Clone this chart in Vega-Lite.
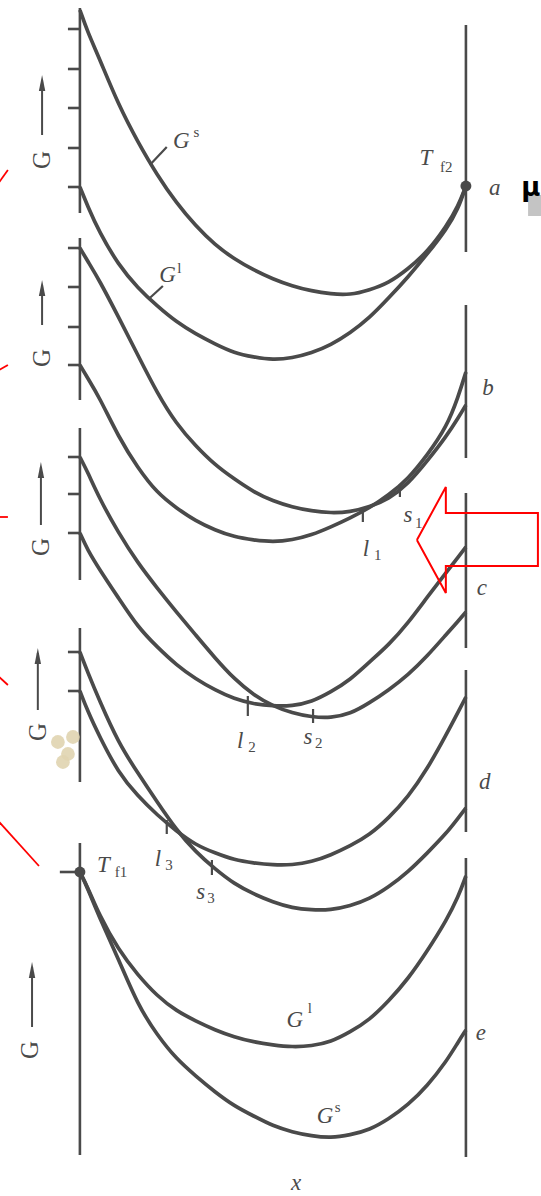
{
  "$schema": "https://vega.github.io/schema/vega-lite/v6.json",
  "width": 541,
  "height": 1196,
  "autosize": {"type": "none"},
  "padding": 0,
  "background": "white",
  "config": {"view": {"stroke": null}},
  "encoding": {
    "x": {"field": "x", "type": "quantitative", "scale": {"domain": [-20.7, 119.45], "nice": false, "zero": false}, "axis": null},
    "y": {"field": "G", "type": "quantitative", "scale": {"domain": [0, 119.6], "nice": false, "zero": false}, "axis": null}
  },
  "datasets": {
    "curves": [
      {"curve": "a_s", "x": 0, "G": 118.6}, {"curve": "a_s", "x": 2, "G": 116.4}, {"curve": "a_s", "x": 5, "G": 113.8}, {"curve": "a_s", "x": 10, "G": 109.1}, {"curve": "a_s", "x": 15, "G": 105.4}, {"curve": "a_s", "x": 20, "G": 102.1}, {"curve": "a_s", "x": 25, "G": 99.3}, {"curve": "a_s", "x": 30, "G": 97.0}, {"curve": "a_s", "x": 35, "G": 95.1}, {"curve": "a_s", "x": 40, "G": 93.7}, {"curve": "a_s", "x": 45, "G": 92.6}, {"curve": "a_s", "x": 50, "G": 91.7}, {"curve": "a_s", "x": 55, "G": 91.0}, {"curve": "a_s", "x": 60, "G": 90.5}, {"curve": "a_s", "x": 65, "G": 90.2}, {"curve": "a_s", "x": 70, "G": 90.1}, {"curve": "a_s", "x": 75, "G": 90.6}, {"curve": "a_s", "x": 80, "G": 91.3}, {"curve": "a_s", "x": 85, "G": 92.7}, {"curve": "a_s", "x": 90, "G": 94.4}, {"curve": "a_s", "x": 95, "G": 97.0}, {"curve": "a_s", "x": 98, "G": 99.0}, {"curve": "a_s", "x": 100, "G": 101.0},
      {"curve": "a_l", "x": 0, "G": 100.9}, {"curve": "a_l", "x": 2, "G": 99.0}, {"curve": "a_l", "x": 5, "G": 96.4}, {"curve": "a_l", "x": 10, "G": 93.1}, {"curve": "a_l", "x": 15, "G": 90.8}, {"curve": "a_l", "x": 20, "G": 89.0}, {"curve": "a_l", "x": 25, "G": 87.4}, {"curve": "a_l", "x": 30, "G": 86.2}, {"curve": "a_l", "x": 35, "G": 85.2}, {"curve": "a_l", "x": 40, "G": 84.3}, {"curve": "a_l", "x": 45, "G": 83.9}, {"curve": "a_l", "x": 50, "G": 83.6}, {"curve": "a_l", "x": 55, "G": 83.8}, {"curve": "a_l", "x": 60, "G": 84.3}, {"curve": "a_l", "x": 65, "G": 85.1}, {"curve": "a_l", "x": 70, "G": 86.3}, {"curve": "a_l", "x": 75, "G": 87.8}, {"curve": "a_l", "x": 80, "G": 89.8}, {"curve": "a_l", "x": 85, "G": 91.9}, {"curve": "a_l", "x": 90, "G": 94.2}, {"curve": "a_l", "x": 95, "G": 96.7}, {"curve": "a_l", "x": 98, "G": 98.7}, {"curve": "a_l", "x": 100, "G": 101.0},
      {"curve": "b_s", "x": 0, "G": 94.8}, {"curve": "b_s", "x": 2, "G": 93.5}, {"curve": "b_s", "x": 5, "G": 91.6}, {"curve": "b_s", "x": 10, "G": 87.9}, {"curve": "b_s", "x": 15, "G": 84.1}, {"curve": "b_s", "x": 20, "G": 80.3}, {"curve": "b_s", "x": 25, "G": 77.2}, {"curve": "b_s", "x": 30, "G": 75.0}, {"curve": "b_s", "x": 35, "G": 73.1}, {"curve": "b_s", "x": 40, "G": 71.7}, {"curve": "b_s", "x": 45, "G": 70.4}, {"curve": "b_s", "x": 50, "G": 69.5}, {"curve": "b_s", "x": 55, "G": 68.9}, {"curve": "b_s", "x": 60, "G": 68.5}, {"curve": "b_s", "x": 65, "G": 68.3}, {"curve": "b_s", "x": 70, "G": 68.4}, {"curve": "b_s", "x": 75, "G": 68.9}, {"curve": "b_s", "x": 80, "G": 69.7}, {"curve": "b_s", "x": 85, "G": 71.2}, {"curve": "b_s", "x": 90, "G": 73.5}, {"curve": "b_s", "x": 95, "G": 76.0}, {"curve": "b_s", "x": 98, "G": 77.8}, {"curve": "b_s", "x": 100, "G": 79.1},
      {"curve": "b_l", "x": 0, "G": 83.1}, {"curve": "b_l", "x": 2, "G": 81.8}, {"curve": "b_l", "x": 5, "G": 79.9}, {"curve": "b_l", "x": 10, "G": 75.9}, {"curve": "b_l", "x": 15, "G": 72.8}, {"curve": "b_l", "x": 20, "G": 70.3}, {"curve": "b_l", "x": 25, "G": 68.8}, {"curve": "b_l", "x": 30, "G": 67.5}, {"curve": "b_l", "x": 35, "G": 66.6}, {"curve": "b_l", "x": 40, "G": 65.9}, {"curve": "b_l", "x": 45, "G": 65.6}, {"curve": "b_l", "x": 50, "G": 65.4}, {"curve": "b_l", "x": 55, "G": 65.6}, {"curve": "b_l", "x": 60, "G": 66.1}, {"curve": "b_l", "x": 65, "G": 66.9}, {"curve": "b_l", "x": 70, "G": 67.8}, {"curve": "b_l", "x": 75, "G": 68.8}, {"curve": "b_l", "x": 80, "G": 70.1}, {"curve": "b_l", "x": 85, "G": 71.7}, {"curve": "b_l", "x": 90, "G": 74.1}, {"curve": "b_l", "x": 95, "G": 76.9}, {"curve": "b_l", "x": 98, "G": 79.9}, {"curve": "b_l", "x": 100, "G": 82.4},
      {"curve": "c_s", "x": 0, "G": 73.9}, {"curve": "c_s", "x": 2, "G": 72.4}, {"curve": "c_s", "x": 5, "G": 69.8}, {"curve": "c_s", "x": 10, "G": 66.3}, {"curve": "c_s", "x": 15, "G": 63.3}, {"curve": "c_s", "x": 20, "G": 60.8}, {"curve": "c_s", "x": 25, "G": 58.4}, {"curve": "c_s", "x": 30, "G": 56.1}, {"curve": "c_s", "x": 35, "G": 53.8}, {"curve": "c_s", "x": 40, "G": 51.7}, {"curve": "c_s", "x": 45, "G": 50.1}, {"curve": "c_s", "x": 50, "G": 49.0}, {"curve": "c_s", "x": 55, "G": 48.3}, {"curve": "c_s", "x": 60, "G": 47.9}, {"curve": "c_s", "x": 65, "G": 47.8}, {"curve": "c_s", "x": 70, "G": 48.2}, {"curve": "c_s", "x": 75, "G": 49.3}, {"curve": "c_s", "x": 80, "G": 50.6}, {"curve": "c_s", "x": 85, "G": 52.1}, {"curve": "c_s", "x": 90, "G": 54.0}, {"curve": "c_s", "x": 95, "G": 56.2}, {"curve": "c_s", "x": 98, "G": 57.5}, {"curve": "c_s", "x": 100, "G": 58.4},
      {"curve": "c_l", "x": 0, "G": 66.3}, {"curve": "c_l", "x": 2, "G": 64.6}, {"curve": "c_l", "x": 5, "G": 62.7}, {"curve": "c_l", "x": 10, "G": 59.8}, {"curve": "c_l", "x": 15, "G": 56.9}, {"curve": "c_l", "x": 20, "G": 54.9}, {"curve": "c_l", "x": 25, "G": 53.1}, {"curve": "c_l", "x": 30, "G": 51.7}, {"curve": "c_l", "x": 35, "G": 50.6}, {"curve": "c_l", "x": 40, "G": 49.7}, {"curve": "c_l", "x": 45, "G": 49.2}, {"curve": "c_l", "x": 50, "G": 49.0}, {"curve": "c_l", "x": 55, "G": 49.0}, {"curve": "c_l", "x": 60, "G": 49.4}, {"curve": "c_l", "x": 65, "G": 50.4}, {"curve": "c_l", "x": 70, "G": 51.6}, {"curve": "c_l", "x": 75, "G": 53.4}, {"curve": "c_l", "x": 80, "G": 55.1}, {"curve": "c_l", "x": 85, "G": 57.3}, {"curve": "c_l", "x": 90, "G": 59.9}, {"curve": "c_l", "x": 95, "G": 62.4}, {"curve": "c_l", "x": 98, "G": 63.9}, {"curve": "c_l", "x": 100, "G": 64.9},
      {"curve": "d_s", "x": 0, "G": 54.4}, {"curve": "d_s", "x": 2, "G": 52.4}, {"curve": "d_s", "x": 5, "G": 49.6}, {"curve": "d_s", "x": 10, "G": 45.3}, {"curve": "d_s", "x": 15, "G": 42.3}, {"curve": "d_s", "x": 20, "G": 39.4}, {"curve": "d_s", "x": 25, "G": 36.6}, {"curve": "d_s", "x": 30, "G": 34.4}, {"curve": "d_s", "x": 35, "G": 32.7}, {"curve": "d_s", "x": 40, "G": 31.2}, {"curve": "d_s", "x": 45, "G": 30.2}, {"curve": "d_s", "x": 50, "G": 29.4}, {"curve": "d_s", "x": 55, "G": 28.8}, {"curve": "d_s", "x": 60, "G": 28.6}, {"curve": "d_s", "x": 65, "G": 28.6}, {"curve": "d_s", "x": 70, "G": 29.0}, {"curve": "d_s", "x": 75, "G": 29.7}, {"curve": "d_s", "x": 80, "G": 30.9}, {"curve": "d_s", "x": 85, "G": 32.4}, {"curve": "d_s", "x": 90, "G": 34.3}, {"curve": "d_s", "x": 95, "G": 36.3}, {"curve": "d_s", "x": 98, "G": 37.8}, {"curve": "d_s", "x": 100, "G": 38.8},
      {"curve": "d_l", "x": 0, "G": 50.5}, {"curve": "d_l", "x": 2, "G": 48.5}, {"curve": "d_l", "x": 5, "G": 46.0}, {"curve": "d_l", "x": 10, "G": 42.3}, {"curve": "d_l", "x": 15, "G": 40.0}, {"curve": "d_l", "x": 20, "G": 38.1}, {"curve": "d_l", "x": 25, "G": 36.5}, {"curve": "d_l", "x": 30, "G": 35.1}, {"curve": "d_l", "x": 35, "G": 34.3}, {"curve": "d_l", "x": 40, "G": 33.6}, {"curve": "d_l", "x": 45, "G": 33.3}, {"curve": "d_l", "x": 50, "G": 33.1}, {"curve": "d_l", "x": 55, "G": 33.1}, {"curve": "d_l", "x": 60, "G": 33.4}, {"curve": "d_l", "x": 65, "G": 34.1}, {"curve": "d_l", "x": 70, "G": 35.0}, {"curve": "d_l", "x": 75, "G": 36.1}, {"curve": "d_l", "x": 80, "G": 37.8}, {"curve": "d_l", "x": 85, "G": 39.9}, {"curve": "d_l", "x": 90, "G": 42.7}, {"curve": "d_l", "x": 95, "G": 46.2}, {"curve": "d_l", "x": 98, "G": 48.4}, {"curve": "d_l", "x": 100, "G": 49.9},
      {"curve": "e_l", "x": 0, "G": 32.4}, {"curve": "e_l", "x": 2, "G": 30.9}, {"curve": "e_l", "x": 5, "G": 28.1}, {"curve": "e_l", "x": 10, "G": 24.6}, {"curve": "e_l", "x": 15, "G": 22.1}, {"curve": "e_l", "x": 20, "G": 20.0}, {"curve": "e_l", "x": 25, "G": 18.5}, {"curve": "e_l", "x": 30, "G": 17.5}, {"curve": "e_l", "x": 35, "G": 16.6}, {"curve": "e_l", "x": 40, "G": 15.9}, {"curve": "e_l", "x": 45, "G": 15.4}, {"curve": "e_l", "x": 50, "G": 15.1}, {"curve": "e_l", "x": 55, "G": 14.9}, {"curve": "e_l", "x": 60, "G": 15.0}, {"curve": "e_l", "x": 65, "G": 15.4}, {"curve": "e_l", "x": 70, "G": 16.4}, {"curve": "e_l", "x": 75, "G": 17.6}, {"curve": "e_l", "x": 80, "G": 19.5}, {"curve": "e_l", "x": 85, "G": 21.7}, {"curve": "e_l", "x": 90, "G": 24.5}, {"curve": "e_l", "x": 95, "G": 27.6}, {"curve": "e_l", "x": 98, "G": 29.9}, {"curve": "e_l", "x": 100, "G": 32.0},
      {"curve": "e_s", "x": 0, "G": 32.4}, {"curve": "e_s", "x": 2, "G": 30.8}, {"curve": "e_s", "x": 5, "G": 27.9}, {"curve": "e_s", "x": 10, "G": 23.7}, {"curve": "e_s", "x": 15, "G": 19.1}, {"curve": "e_s", "x": 20, "G": 16.1}, {"curve": "e_s", "x": 25, "G": 13.7}, {"curve": "e_s", "x": 30, "G": 12.0}, {"curve": "e_s", "x": 35, "G": 10.4}, {"curve": "e_s", "x": 40, "G": 9.0}, {"curve": "e_s", "x": 45, "G": 8.0}, {"curve": "e_s", "x": 50, "G": 7.0}, {"curve": "e_s", "x": 55, "G": 6.4}, {"curve": "e_s", "x": 60, "G": 6.0}, {"curve": "e_s", "x": 65, "G": 5.8}, {"curve": "e_s", "x": 70, "G": 6.1}, {"curve": "e_s", "x": 75, "G": 6.6}, {"curve": "e_s", "x": 80, "G": 7.7}, {"curve": "e_s", "x": 85, "G": 9.1}, {"curve": "e_s", "x": 90, "G": 11.0}, {"curve": "e_s", "x": 95, "G": 13.5}, {"curve": "e_s", "x": 98, "G": 15.4}, {"curve": "e_s", "x": 100, "G": 16.6}
    ],
    "frame": [
      {"x": 0, "G": 118.8, "x2": 0, "G2": 98.3}, {"x": 0, "G": 95.8, "x2": 0, "G2": 79.6}, {"x": 0, "G": 76.8, "x2": 0, "G2": 61.6}, {"x": 0, "G": 56.8, "x2": 0, "G2": 41.4}, {"x": 0, "G": 35.3, "x2": 0, "G2": 4.1},
      {"x": 100, "G": 117.1, "x2": 100, "G2": 94.4}, {"x": 100, "G": 89.1, "x2": 100, "G2": 73.8}, {"x": 100, "G": 70.3, "x2": 100, "G2": 54.8}, {"x": 100, "G": 52.6, "x2": 100, "G2": 36.4}, {"x": 100, "G": 33.8, "x2": 100, "G2": 3.9},
      {"x": -3.1, "G": 116.7, "x2": 0, "G2": 116.7}, {"x": -3.1, "G": 112.7, "x2": 0, "G2": 112.7}, {"x": -3.1, "G": 108.8, "x2": 0, "G2": 108.8}, {"x": -3.1, "G": 104.8, "x2": 0, "G2": 104.8}, {"x": -3.1, "G": 100.9, "x2": 0, "G2": 100.9},
      {"x": -3.1, "G": 94.8, "x2": 0, "G2": 94.8}, {"x": -3.1, "G": 90.9, "x2": 0, "G2": 90.9}, {"x": -3.1, "G": 86.9, "x2": 0, "G2": 86.9}, {"x": -3.1, "G": 83.1, "x2": 0, "G2": 83.1},
      {"x": -3.1, "G": 73.9, "x2": 0, "G2": 73.9}, {"x": -3.1, "G": 70.2, "x2": 0, "G2": 70.2}, {"x": -3.1, "G": 66.3, "x2": 0, "G2": 66.3},
      {"x": -3.1, "G": 54.4, "x2": 0, "G2": 54.4}, {"x": -3.1, "G": 50.5, "x2": 0, "G2": 50.5},
      {"x": -5.2, "G": 32.4, "x2": 0, "G2": 32.4}
    ],
    "strokes": [
      {"x": 18.1, "G": 103.1, "x2": 22.5, "G2": 104.9}, {"x": 18.1, "G": 89.8, "x2": 21.5, "G2": 91.0},
      {"x": 73.3, "G": 68.6, "x2": 73.3, "G2": 67.4}, {"x": 82.9, "G": 71.2, "x2": 82.9, "G2": 69.9},
      {"x": 43.5, "G": 50.0, "x2": 43.5, "G2": 48.0}, {"x": 60.4, "G": 48.7, "x2": 60.4, "G2": 47.3},
      {"x": 22.5, "G": 37.6, "x2": 22.5, "G2": 36.2}, {"x": 34.2, "G": 33.6, "x2": 34.2, "G2": 32.1}
    ],
    "melting": [{"x": 100, "G": 101.0}, {"x": 0, "G": 32.4}],
    "shafts": [
      {"x": -9.8, "G": 106.1, "x2": -9.8, "G2": 111.6}, {"x": -9.8, "G": 87.1, "x2": -9.8, "G2": 91.1}, {"x": -10.1, "G": 67.1, "x2": -10.1, "G2": 72.9}, {"x": -10.9, "G": 48.6, "x2": -10.9, "G2": 54.3}, {"x": -12.4, "G": 16.9, "x2": -12.4, "G2": 22.9}
    ],
    "heads": [{"x": -9.8, "G": 111.3}, {"x": -9.8, "G": 90.8}, {"x": -10.1, "G": 72.6}, {"x": -10.9, "G": 54.0}, {"x": -12.4, "G": 22.6}],
    "gaxis": [{"x": -9.8, "G": 103.6}, {"x": -9.8, "G": 83.8}, {"x": -10.1, "G": 64.9}, {"x": -10.9, "G": 46.4}, {"x": -13.0, "G": 14.6}],
    "italic": [
      {"text": "G", "x": 26.3, "G": 104.8}, {"text": "G", "x": 22.7, "G": 91.4}, {"text": "T", "x": 89.6, "G": 103.1}, {"text": "a", "x": 107.5, "G": 100.1},
      {"text": "b", "x": 105.7, "G": 80.1}, {"text": "l", "x": 74.1, "G": 64.0}, {"text": "s", "x": 85.0, "G": 67.4},
      {"text": "c", "x": 104.1, "G": 60.1}, {"text": "l", "x": 41.5, "G": 44.8}, {"text": "s", "x": 59.1, "G": 45.2},
      {"text": "d", "x": 104.9, "G": 40.7}, {"text": "l", "x": 20.2, "G": 33.0}, {"text": "s", "x": 31.3, "G": 29.7},
      {"text": "T", "x": 6.1, "G": 32.4}, {"text": "G", "x": 55.7, "G": 16.9}, {"text": "G", "x": 63.5, "G": 7.3}, {"text": "e", "x": 103.9, "G": 15.6},
      {"text": "x", "x": 56.0, "G": 0.6}
    ],
    "indices": [
      {"text": "s", "x": 29.4, "G": 105.9}, {"text": "l", "x": 25.2, "G": 92.3}, {"text": "f2", "x": 93.3, "G": 102.4},
      {"text": "1", "x": 76.2, "G": 63.6}, {"text": "1", "x": 86.8, "G": 66.8},
      {"text": "2", "x": 43.6, "G": 44.4}, {"text": "2", "x": 60.9, "G": 44.8},
      {"text": "3", "x": 22.1, "G": 32.6}, {"text": "3", "x": 33.0, "G": 29.3},
      {"text": "f1", "x": 9.0, "G": 31.9}, {"text": "l", "x": 59.0, "G": 18.3}, {"text": "s", "x": 66.0, "G": 8.4}
    ],
    "stain": [{"x": -5.7, "G": 45.4}, {"x": -3.1, "G": 44.2}, {"x": -1.8, "G": 45.9}, {"x": -4.4, "G": 43.4}],
    "mu_box": [{"x": 116.1, "G": 100.1, "x2": 119.45, "G2": 98.0}],
    "mu": [{"text": "μ", "x": 119.3, "G": 100.0}],
    "redlines": [
      {"x": -20.9, "G": 101.4, "x2": -18.65, "G2": 102.6}, {"x": -20.9, "G": 82.6, "x2": -18.65, "G2": 83.1}, {"x": -20.9, "G": 67.9, "x2": -18.65, "G2": 67.9},
      {"x": -20.9, "G": 51.9, "x2": -18.65, "G2": 51.1}, {"x": -20.9, "G": 37.4, "x2": -10.6, "G2": 33.0}
    ],
    "redarrow": [
      {"order": 1, "x": 87.3, "G": 65.6}, {"order": 2, "x": 94.8, "G": 70.9}, {"order": 3, "x": 94.8, "G": 68.3}, {"order": 4, "x": 118.65, "G": 68.3},
      {"order": 5, "x": 118.65, "G": 63.0}, {"order": 6, "x": 94.8, "G": 63.0}, {"order": 7, "x": 94.8, "G": 60.3}, {"order": 8, "x": 87.3, "G": 65.6}
    ]
  },
  "layer": [
    {"data": {"name": "mu_box"}, "mark": {"type": "rect", "color": "#c4c4c4"}, "encoding": {"x2": {"field": "x2"}, "y2": {"field": "G2"}}},
    {"data": {"name": "mu"}, "mark": {"type": "text", "font": "DejaVu Sans", "fontWeight": "bold", "fontSize": 26, "align": "right", "baseline": "alphabetic", "color": "black"}, "encoding": {"text": {"field": "text"}}},
    {"data": {"name": "frame"}, "mark": {"type": "rule", "color": "#4a4a4a", "strokeWidth": 2.6}, "encoding": {"x2": {"field": "x2"}, "y2": {"field": "G2"}}},
    {"data": {"name": "stain"}, "mark": {"type": "point", "filled": true, "shape": "circle", "size": 190, "color": "#e0d4b0", "opacity": 0.9}},
    {"data": {"name": "curves"}, "mark": {"type": "line", "color": "#4a4a4a", "strokeWidth": 3.7, "interpolate": "basis"}, "encoding": {"detail": {"field": "curve"}}},
    {"data": {"name": "strokes"}, "mark": {"type": "rule", "color": "#4a4a4a", "strokeWidth": 2.2}, "encoding": {"x2": {"field": "x2"}, "y2": {"field": "G2"}}},
    {"data": {"name": "melting"}, "mark": {"type": "point", "filled": true, "shape": "circle", "size": 120, "color": "#4a4a4a", "opacity": 1}},
    {"data": {"name": "shafts"}, "mark": {"type": "rule", "color": "#4a4a4a", "strokeWidth": 2}, "encoding": {"x2": {"field": "x2"}, "y2": {"field": "G2"}}},
    {"data": {"name": "heads"}, "mark": {"type": "point", "filled": true, "shape": "M0,-1L0.4,1L-0.4,1Z", "size": 256, "color": "#4a4a4a", "opacity": 1}},
    {"data": {"name": "gaxis"}, "mark": {"type": "text", "text": "G", "font": "Liberation Serif", "fontSize": 25, "angle": 270, "align": "center", "baseline": "middle", "color": "#4a4a4a"}},
    {"data": {"name": "italic"}, "mark": {"type": "text", "font": "Liberation Serif", "fontStyle": "italic", "fontSize": 23, "align": "center", "baseline": "alphabetic", "color": "#4a4a4a"}, "encoding": {"text": {"field": "text"}}},
    {"data": {"name": "indices"}, "mark": {"type": "text", "font": "Liberation Serif", "fontSize": 15, "align": "left", "baseline": "alphabetic", "color": "#4a4a4a"}, "encoding": {"text": {"field": "text"}}},
    {"data": {"name": "redlines"}, "mark": {"type": "rule", "color": "#ff0000", "strokeWidth": 1.8}, "encoding": {"x2": {"field": "x2"}, "y2": {"field": "G2"}}},
    {"data": {"name": "redarrow"}, "mark": {"type": "line", "color": "#ff0000", "strokeWidth": 2, "strokeJoin": "miter"}, "encoding": {"order": {"field": "order", "type": "quantitative"}}}
  ]
}
